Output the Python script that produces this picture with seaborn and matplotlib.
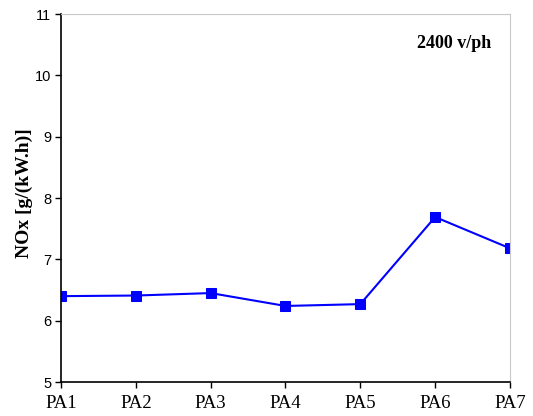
import matplotlib
matplotlib.use("Agg")
import matplotlib.pyplot as plt
import seaborn as sns
import pandas as pd

categories = ["PA1", "PA2", "PA3", "PA4", "PA5", "PA6", "PA7"]
nox_values = [6.40, 6.41, 6.45, 6.24, 6.27, 7.69, 7.18]
y_ticks = [5, 6, 7, 8, 9, 10, 11]

df = pd.DataFrame({"pos": range(len(categories)), "nox": nox_values})

sns.set_style("white")
plt.rcParams.update({"text.color": "black", "axes.labelcolor": "black",
                     "xtick.color": "black", "ytick.color": "black"})
fig = plt.figure(figsize=(5.33, 4.16), dpi=100)
ax = fig.add_axes([0.1144, 0.0817, 0.8424, 0.8846])

sns.lineplot(data=df, x="pos", y="nox", ax=ax, color="#0000ff", linewidth=1.5,
             marker="s", markersize=6.5, markeredgecolor="#0000ff")

ax.set_xlim(0, len(categories) - 1)
ax.set_ylim(5, 11)
ax.set_xticks(range(len(categories)))
ax.set_xticklabels(categories, family="Liberation Serif", fontsize=13.5)
ax.set_yticks(y_ticks)
ax.set_yticklabels([str(t) for t in y_ticks], family="Liberation Sans", fontsize=10.5)
ax.tick_params(axis="both", direction="out", length=4, width=1, color="black",
               bottom=True, left=True)
ax.tick_params(axis="x", pad=5)
ax.tick_params(axis="y", pad=3)

ax.set_xlabel("")
ax.set_ylabel("NOx [g/(kW.h)]", family="Liberation Serif", fontweight="bold",
              fontsize=14)
ax.yaxis.set_label_coords(-0.063, 0.514)

for side in ("left", "bottom"):
    ax.spines[side].set_color("black")
    ax.spines[side].set_linewidth(1.2)
for side in ("top", "right"):
    ax.spines[side].set_color("#c8c8c8")
    ax.spines[side].set_linewidth(0.8)

ax.text(0.958, 0.921, "2400 v/ph", transform=ax.transAxes, ha="right", va="center",
        family="Liberation Serif", fontweight="bold", fontsize=13)

fig.savefig("out.png", dpi=100)
